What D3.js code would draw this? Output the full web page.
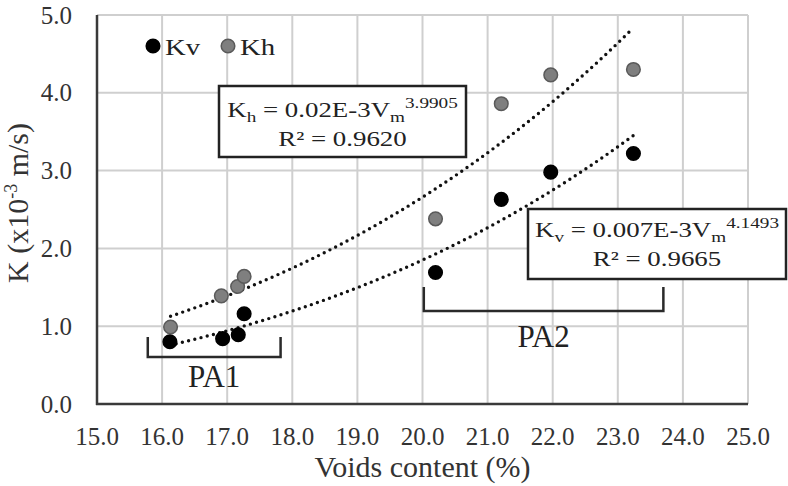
<!DOCTYPE html>
<html><head><meta charset="utf-8">
<script src="https://cdn.jsdelivr.net/npm/d3@7"></script>
<style>body{margin:0;background:#fff}svg{display:block}text{font-family:"Liberation Serif","Times New Roman",serif}</style>
</head><body>
<svg id="c" width="788" height="486"></svg>
<script>
// ---- data ----
const xTicks = [15, 16, 17, 18, 19, 20, 21, 22, 23, 24, 25];
const yTicks = [0, 1, 2, 3, 4, 5];
const voidsKv = [16.12, 16.93, 17.17, 17.26, 20.20, 21.21, 21.97, 23.24];
const valuesKv = [0.80, 0.84, 0.89, 1.16, 1.69, 2.63, 2.98, 3.22];
const voidsKh = [16.13, 16.91, 17.16, 17.26, 20.20, 21.21, 21.97, 23.24];
const valuesKh = [0.99, 1.39, 1.51, 1.64, 2.38, 3.86, 4.23, 4.30];
const seriesNames = ["Kv", "Kh"];
const eqKh = {base: "K", sub: "h", mid: " = 0.02E-3V", sub2: "m", sup: "3.9905", r2: "R² = 0.9620"};
const eqKv = {base: "K", sub: "v", mid: " = 0.007E-3V", sub2: "m", sup: "4.1493", r2: "R² = 0.9665"};
const groupLabels = ["PA1", "PA2"];
const groupRanges = [[15.78, 17.82], [20.02, 23.7]];
const xTitle = "Voids content (%)";

const svg = d3.select("#c");
const x = d3.scaleLinear().domain([15, 25]).range([97, 748]);
const y = d3.scaleLinear().domain([0, 5]).range([404, 15]);

// grid
const g = svg.append("g");
g.selectAll(".vx").data(xTicks.slice(1)).join("line")
  .attr("x1", d => x(d)).attr("x2", d => x(d)).attr("y1", y(5)).attr("y2", y(0))
  .attr("stroke", "#cfcfcf").attr("stroke-width", 2);
g.selectAll(".hy").data(yTicks.slice(1)).join("line")
  .attr("x1", x(15)).attr("x2", x(25)).attr("y1", d => y(d)).attr("y2", d => y(d))
  .attr("stroke", "#cfcfcf").attr("stroke-width", 2);

// axes lines
svg.append("line").attr("x1", x(15)).attr("x2", x(15)).attr("y1", y(5)).attr("y2", y(0) + 1)
  .attr("stroke", "#3a3a3a").attr("stroke-width", 2.5);
svg.append("line").attr("x1", x(15) - 1).attr("x2", x(25)).attr("y1", y(0)).attr("y2", y(0))
  .attr("stroke", "#3a3a3a").attr("stroke-width", 2.5);

// tick labels
svg.selectAll(".xt").data(xTicks).join("text")
  .attr("x", d => x(d)).attr("y", 445).attr("text-anchor", "middle")
  .attr("font-size", 25).attr("fill", "#333").text(d => d.toFixed(1));
svg.selectAll(".yt").data(yTicks).join("text")
  .attr("x", 72).attr("y", d => y(d) + 8.5).attr("text-anchor", "end")
  .attr("font-size", 25).attr("fill", "#333").text(d => d.toFixed(1));

// axis titles
svg.append("text").attr("x", (x(15) + x(25)) / 2).attr("y", 477).attr("text-anchor", "middle")
  .attr("font-size", 30).attr("fill", "#333").text(xTitle);
const yt = svg.append("text").attr("transform", "translate(28,203) rotate(-90)")
  .attr("text-anchor", "middle").attr("font-size", 30).attr("fill", "#333");
yt.append("tspan").text("K (x10");
yt.append("tspan").attr("font-size", 18).attr("dy", -11).text("-3");
yt.append("tspan").attr("dy", 11).text(" m/s)");

// power trendlines (least squares on ln-ln)
function powerFit(xs, ys) {
  const lx = xs.map(Math.log), ly = ys.map(Math.log);
  const mx = d3.mean(lx), my = d3.mean(ly);
  const b = d3.sum(lx, (v, i) => (v - mx) * (ly[i] - my)) / d3.sum(lx, v => (v - mx) ** 2);
  const a = Math.exp(my - b * mx);
  return v => a * Math.pow(v, b);
}
function trend(xs, ys) {
  const f = powerFit(xs, ys);
  const lo = d3.min(xs), hi = d3.max(xs);
  const pts = d3.range(0, 101).map(i => lo + (hi - lo) * i / 100);
  svg.append("path").datum(pts)
    .attr("d", d3.line().x(v => x(v)).y(v => y(f(v))))
    .attr("fill", "none").attr("stroke", "#111").attr("stroke-width", 3.4)
    .attr("stroke-linecap", "round").attr("stroke-dasharray", "0 6.4");
}
trend(voidsKh, valuesKh);
trend(voidsKv, valuesKv);

// points
function pts(xs, ys, fill, stroke) {
  svg.append("g").selectAll("circle").data(xs.map((v, i) => [v, ys[i]])).join("circle")
    .attr("cx", d => x(d[0])).attr("cy", d => y(d[1])).attr("r", 6.8)
    .attr("fill", fill).attr("stroke", stroke).attr("stroke-width", 1.5);
}
pts(voidsKh, valuesKh, "#7f7f7f", "#5a5a5a");
pts(voidsKv, valuesKv, "#000", "#000");

// legend
const legend = [{name: seriesNames[0], cx: 153, fill: "#000", stroke: "#000"},
                {name: seriesNames[1], cx: 228, fill: "#7f7f7f", stroke: "#5a5a5a"}];
legend.forEach(l => {
  svg.append("circle").attr("cx", l.cx).attr("cy", 46).attr("r", 6.8)
    .attr("fill", l.fill).attr("stroke", l.stroke).attr("stroke-width", 1.5);
  svg.append("text").attr("transform", `translate(${l.cx + 12},55) scale(1.25,1)`)
    .attr("font-size", 23).attr("fill", "#222").text(l.name);
});

// equation boxes
function eqBox(eq, x0, y0, x1, y1, b1, b2) {
  svg.append("rect").attr("x", x0).attr("y", y0).attr("width", x1 - x0).attr("height", y1 - y0)
    .attr("fill", "#fff").attr("stroke", "#222").attr("stroke-width", 2.5);
  const cx = (x0 + x1) / 2;
  const t = svg.append("text").attr("transform", `translate(${cx},${b1}) scale(1.28,1)`)
    .attr("text-anchor", "middle").attr("font-size", 21).attr("fill", "#222");
  t.append("tspan").text(eq.base);
  t.append("tspan").attr("font-size", 15).attr("dy", 5).text(eq.sub);
  t.append("tspan").attr("dy", -5).text(eq.mid);
  t.append("tspan").attr("font-size", 15).attr("dy", 5).text(eq.sub2);
  t.append("tspan").attr("font-size", 15).attr("dy", -14).text(eq.sup);
  svg.append("text").attr("transform", `translate(${cx},${b2}) scale(1.28,1)`)
    .attr("text-anchor", "middle").attr("font-size", 21).attr("fill", "#222").text(eq.r2);
}
eqBox(eqKh, 219, 86, 466, 157, 117, 146);
eqBox(eqKv, 528, 209, 786, 279, 237, 266);

// brackets
function bracket(r, top, bot, label, lb) {
  const x0 = x(r[0]), x1 = x(r[1]);
  svg.append("path").attr("d", `M${x0},${top}V${bot}H${x1}V${top}`)
    .attr("fill", "none").attr("stroke", "#2a2a2a").attr("stroke-width", 2.5);
  svg.append("text").attr("x", (x0 + x1) / 2).attr("y", lb).attr("text-anchor", "middle")
    .attr("font-size", 31).attr("fill", "#222").text(label);
}
bracket(groupRanges[0], 337, 357, groupLabels[0], 387);
bracket(groupRanges[1], 287, 311, groupLabels[1], 347);
</script>
</body></html>
